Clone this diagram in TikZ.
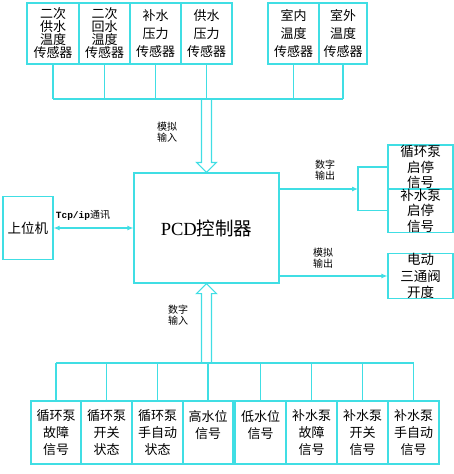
\documentclass[tikz,border=0pt]{standalone}
\usepackage{fontspec}
\setmainfont{Noto Sans CJK SC}
\newfontfamily\serifL{Liberation Serif}
\newfontfamily\monoL{Liberation Mono}
\usetikzlibrary{arrows.meta,calc}
\definecolor{cy}{RGB}{64,222,228}
\begin{document}
\begin{tikzpicture}[x=1pt,y=-1pt,line width=1.1pt,
  every node/.style={inner sep=0pt,align=center},
  bx/.style={draw=cy,minimum width=51pt},
  tbox/.style={bx,minimum height=61pt},
  bbox/.style={bx,minimum height=63pt,font=\fontsize{13}{16.7}\selectfont},
  rbox/.style={bx,minimum width=65pt,minimum height=44pt,font=\fontsize{13.5}{15.5}\selectfont},
  lbl/.style={font=\fontsize{10}{11.5}\selectfont},
  wire/.style={draw=cy},
  tip/.style={draw=cy,-{Latex[length=6pt,width=5pt]}},
  ]
\useasboundingbox (0,0) rectangle (454,474);

% top sensors
\begin{scope}[font=\fontsize{13}{13}\selectfont]
\node[tbox,minimum width=52pt] (t1) at (53,33.5) {二次\\供水\\温度\\传感器};
\node[tbox] (t2) at (104.5,33.5) {二次\\回水\\温度\\传感器};
\end{scope}
\begin{scope}[font=\fontsize{13}{18}\selectfont]
\node[tbox] (t3) at (155.5,33.5) {补水\\压力\\传感器};
\node[tbox] (t4) at (206.5,33.5) {供水\\压力\\传感器};
\node[tbox] (t5) at (293.5,33.5) {室内\\温度\\传感器};
\node[tbox,minimum width=48pt] (t6) at (343,33.5) {室外\\温度\\传感器};
\end{scope}

% controller and host
\node[draw=cy,minimum width=145pt,minimum height=110pt,font=\fontsize{18.5}{20}\selectfont] (ctrl) at (206.5,228) {{\serifL PCD}控制器};
\node[draw=cy,minimum width=50pt,minimum height=63pt,font=\fontsize{13.5}{15}\selectfont] (pc) at (28,228) {上位机};

% right outputs
\node[rbox] (o1) at (420.5,167) {循环泵\\启停\\信号};
\node[rbox,minimum height=43pt] (o2) at (420.5,210.5) {补水泵\\启停\\信号};
\node[rbox,font=\fontsize{13.5}{16.5}\selectfont] (o3) at (420.5,276) {电动\\三通阀\\开度};

% bottom inputs
\node[bbox,minimum width=50pt] (b1) at (56,432.5) {循环泵\\故障\\信号};
\node[bbox] (b2) at (106.5,432.5) {循环泵\\开关\\状态};
\node[bbox] (b3) at (157.5,432.5) {循环泵\\手自动\\状态};
\node[bbox,minimum width=50pt] (b4) at (208,432.5) {高水位\\信号\\~};
\node[bbox] (b5) at (260.5,432.5) {低水位\\信号\\~};
\node[bbox] (b6) at (311.5,432.5) {补水泵\\故障\\信号};
\node[bbox] (b7) at (362.5,432.5) {补水泵\\开关\\信号};
\node[bbox] (b8) at (413.5,432.5) {补水泵\\手自动\\信号};

% labels
\node[lbl] (l1) at (167,132) {模拟\\输入};
\node[lbl] (l2) at (325,170) {数字\\输出};
\node[lbl] (l3) at (323,258) {模拟\\输出};
\node[lbl] (l4) at (178,315) {数字\\输入};
\node[font=\monoL\bfseries\fontsize{9.5}{11}\selectfont] (l5) at (83,215) {Tcp/ip{\normalfont\fontsize{10}{11}\selectfont 通讯}};

% top bus
\coordinate (busT) at (0,99);
\foreach \n in {t1,t2,t3,t4,t5,t6} \draw[wire] (\n.south) -- (\n.south |- busT);
\draw[wire] (t1.south |- busT) -- (t6.south |- busT);
\draw[wire] ($(ctrl.north)+(-5,-74)$) -- ($(ctrl.north)+(-5,-10)$) -- ($(ctrl.north)+(-10,-10)$)
  -- (ctrl.north) -- ($(ctrl.north)+(10,-10)$) -- ($(ctrl.north)+(5,-10)$) -- ($(ctrl.north)+(5,-74)$);

% bottom bus
\coordinate (busB) at (0,363);
\foreach \n in {b1,b2,b3,b4,b5,b6,b7,b8} \draw[wire] (\n.north) -- (\n.north |- busB);
\draw[wire] (b1.north |- busB) -- (b8.north |- busB);
\draw[wire] ($(ctrl.south)+(-5,80)$) -- ($(ctrl.south)+(-5,10)$) -- ($(ctrl.south)+(-10,10)$)
  -- (ctrl.south) -- ($(ctrl.south)+(10,10)$) -- ($(ctrl.south)+(5,10)$) -- ($(ctrl.south)+(5,80)$);

% host link
\draw[draw=cy,{Latex[length=6pt,width=5pt]}-{Latex[length=6pt,width=5pt]}] (pc.east) -- (ctrl.west);

% digital output
\coordinate (jn) at (358,189);
\draw[tip] (ctrl.east |- jn) -- (jn);
\draw[wire] (o1.west) -| (jn) |- (o2.west);

% analog output
\draw[tip] (ctrl.east |- o3.west) -- (o3.west);
\end{tikzpicture}
\end{document}
